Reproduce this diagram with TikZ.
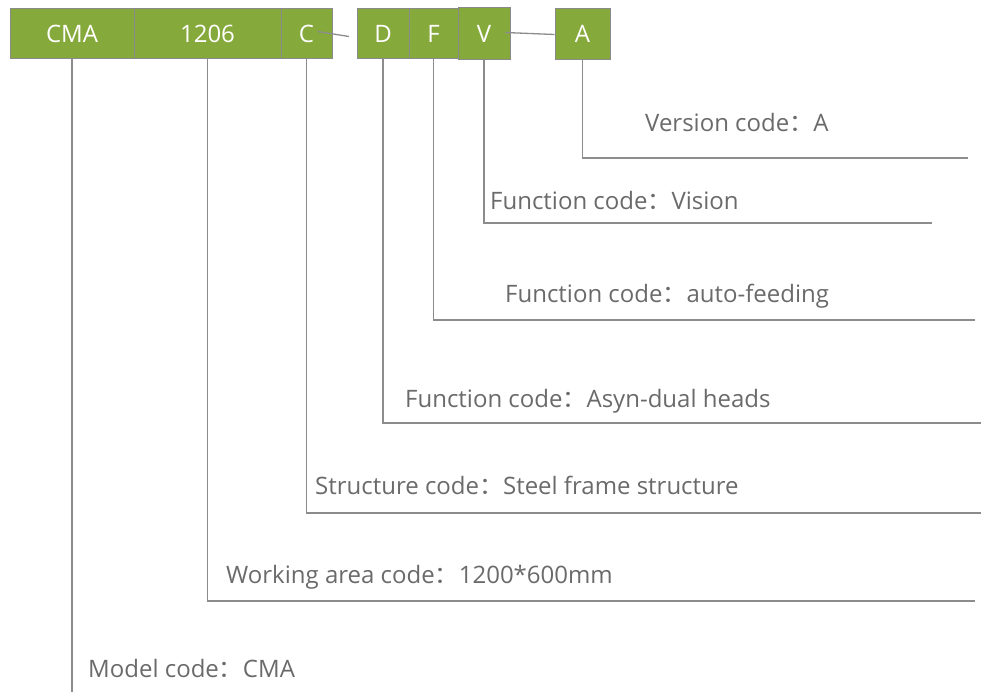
\documentclass[tikz,border=0pt]{standalone}
\usepackage{fontspec}
\setmainfont{Open Sans}
\newfontfamily\cjk{Noto Sans CJK SC}
\newcommand{\fwcolon}{{\cjk ：}}
\begin{document}
\begin{tikzpicture}[x=1pt,y=-1pt,
  codebox/.style={draw=boxline,line width=1pt,fill=boxgreen,text=white,
    minimum height=50pt,inner sep=0pt,font=\fontsize{24}{28}\selectfont},
  lead/.style={draw=leadgray,line width=1.3pt},
  label/.style={anchor=west,inner sep=0pt,text=labelgray,font=\fontsize{24}{28}\selectfont}]
\definecolor{boxgreen}{HTML}{86A93C}
\definecolor{boxline}{HTML}{8A8A8A}
\definecolor{leadgray}{HTML}{8C8C8C}
\definecolor{labelgray}{HTML}{6A6A6A}
\useasboundingbox (0,0) rectangle (981,695);
% boxes
\node[codebox,minimum width=124pt] (CMA) at (72,34) {CMA};
\node[codebox,minimum width=147pt] (N1206) at (207.5,34) {1206};
\node[codebox,minimum width=51pt] (C) at (306.5,34) {C};
\node[codebox,minimum width=52pt] (D) at (383,34) {D};
\node[codebox,minimum width=49pt] (F) at (433.5,34) {F};
\node[codebox,minimum width=52pt,minimum height=52pt] (V) at (484,34) {V};
\node[codebox,minimum width=55pt,minimum height=51pt] (A) at (582.5,34) {A};
% connectors between boxes
\coordinate (cdEnd) at (349,36.5);
\draw[lead] ([xshift=11pt,yshift=2.5pt]C.center) -- (cdEnd);
\draw[lead] ([xshift=21pt,yshift=1.5pt]V.center) -- ([yshift=-0.5pt]A.west);
% end points of leaders
\coordinate (eA) at (968,158);
\coordinate (eV) at (932,223);
\coordinate (eF) at (975,320);
\coordinate (eD) at (981,423);
\coordinate (eC) at (981,513);
\coordinate (e1206) at (975,601);
\coordinate (eCMA) at (72,692);
\draw[lead] (A.south) |- (eA);
\draw[lead] (V.south) |- (eV);
\draw[lead] (F.south) |- (eF);
\draw[lead] (D.south) |- (eD);
\draw[lead] (C.south) |- (eC);
\draw[lead] (N1206.south) |- (e1206);
\draw[lead] (CMA.south) -- (eCMA);
% labels
\node[label] (tA) at (645,123) {Version code\fwcolon A};
\node[label] (tV) at (490,200) {Function code\fwcolon Vision};
\node[label] (tF) at (505,296) {Function code\fwcolon auto-feeding};
\node[label] (tD) at (405,401) {Function code\fwcolon Asyn-dual heads};
\node[label] (tC) at (315,485) {Structure code\fwcolon Steel frame structure};
\node[label] (t1206) at (226,577) {Working area code\fwcolon 1200*600mm};
\node[label] (tCMA) at (88,668) {Model code\fwcolon CMA};
\end{tikzpicture}
\end{document}
